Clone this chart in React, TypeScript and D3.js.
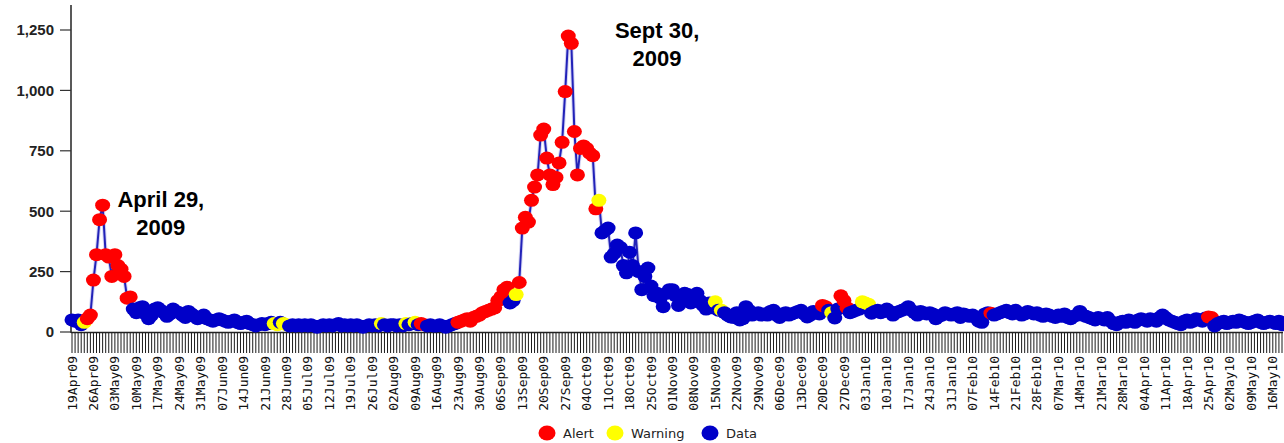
import React from "react";
import * as d3 from "d3";

// ---- data ----
const START_DATE = new Date(2009, 3, 19); // 19 Apr 2009, one value per day

const DAILY_COUNTS: number[] = [
  50, 45, 50, 30, 40, 55, 70,
  215, 320, 465, 525, 320, 310, 230,
  320, 275, 260, 230, 140, 145, 95,
  80, 100, 105, 75, 55, 70, 95,
  100, 90, 80, 65, 75, 95, 85,
  80, 70, 60, 85, 75, 65, 55,
  60, 70, 55, 50, 45, 50, 55,
  50, 45, 40, 45, 50, 40, 35,
  40, 45, 35, 30, 25, 30, 35,
  30, 35, 40, 35, 30, 40, 35,
  30, 25, 30, 25, 30, 25, 30,
  25, 30, 25, 20, 25, 30, 25,
  30, 25, 30, 35, 25, 30, 25,
  30, 25, 30, 25, 20, 25, 30,
  25, 30, 25, 35, 30, 25, 30,
  30, 25, 30, 25, 35, 30, 35,
  40, 30, 35, 30, 25, 30, 25,
  25, 30, 25, 20, 25, 30, 35,
  40, 45, 50, 55, 45, 60, 65,
  70, 80, 85, 90, 95, 100, 130,
  145, 175, 185, 120, 130, 155, 205,
  430, 475, 455, 545, 600, 650, 815,
  840, 720, 650, 610, 640, 700, 785,
  995, 1225, 1195, 830, 650, 760, 770,
  760, 740, 730, 510, 545, 410, 420,
  430, 310, 325, 360, 350, 275, 245,
  330, 275, 410, 250, 175, 230, 265,
  190, 150, 160, 140, 105, 160, 175,
  175, 150, 110, 145, 160, 155, 120,
  145, 160, 130, 110, 95, 120, 100,
  125, 90, 90, 80, 70, 62, 60,
  80, 50, 55, 105, 90, 70, 75,
  80, 70, 75, 70, 85, 90, 70,
  60, 75, 80, 70, 75, 80, 85,
  90, 75, 62, 70, 85, 80, 75,
  110, 105, 90, 80, 58, 95, 150,
  130, 100, 80, 85, 90, 95, 125,
  120, 115, 78, 85, 90, 80, 85,
  95, 85, 70, 80, 85, 90, 95,
  105, 90, 80, 70, 85, 80, 75,
  80, 75, 55, 65, 70, 80, 75,
  70, 75, 80, 60, 75, 70, 65,
  70, 60, 45, 40, 75, 80, 78,
  70, 75, 80, 85, 90, 80, 75,
  90, 80, 70, 75, 85, 80, 75,
  80, 70, 65, 75, 70, 65, 60,
  70, 65, 75, 60, 55, 65, 70,
  85, 70, 65, 60, 55, 50, 60,
  55, 50, 60, 45, 35, 30, 40,
  45, 40, 50, 45, 40, 50, 55,
  50, 45, 55, 50, 45, 60, 70,
  60, 50, 45, 40, 35, 30, 45,
  50, 40, 45, 55, 50, 45, 58,
  62, 60, 25, 35, 40, 45, 35,
  40, 45, 40, 50, 45, 40, 35,
  40, 45, 50, 40, 35, 40, 45,
  40, 35, 45, 30,
];

// A = Alert, W = Warning, D = Data (one letter per day, weekly groups)
const DAILY_STATUS: string = [
  "DDDDWAA", "AAAAAAA", "AAAAAAD", "DDDDDDD", "DDDDDDD", "DDDDDDD", "DDDDDDD",
  "DDDDDDD", "DDDDDDD", "DDDWWDW", "WDDDDDD", "DDDDDDD", "DDDDDDD", "DDDDDDD",
  "DDDWDDD", "DDDDWDD", "WDAADDD", "DDDDDDD", "AAAAAAA", "AAAAAAA", "AAADDWA",
  "AAAAAAA", "AAAAAAA", "AAAAAAA", "AAAAWDD", "DDDDDDD", "DDDDDDD", "DDDDDDD",
  "DDDDDDD", "DDDDDDD", "WDWDDDD", "DDDDDDD", "DDDDDDD", "DDDDDDD", "DDDDDDD",
  "AADWDDA", "AADDDDW", "WWDDDDD", "DDDDDDD", "DDDDDDD", "DDDDDDD", "DDDDDDD",
  "DDDDDDA", "DDDDDDD", "DDDDDDD", "DDDDDDD", "DDDDDDD", "DDDDDDD", "DDDDDDD",
  "DDDDDDD", "DDDDDDD", "DDDDDDD", "DDDDDDD", "AADDDDD", "DDDDDDD", "DDDDDDD",
  "DDDD",
].join("");

const Y_TICKS = [0, 250, 500, 750, 1000, 1250];
const LABEL_EVERY_DAYS = 7;

const SERIES_KEYS = ["A", "W", "D"];
const SERIES_NAMES = ["Alert", "Warning", "Data"];
const SERIES_COLORS = ["#ff0000", "#ffff00", "#0000c8"];

const ANNOTATIONS = [
  { day: 29, value: 517, lines: ["April 29,", "2009"] },
  { day: 191, value: 1217, lines: ["Sept 30,", "2009"] },
];

// ---- component ----
const W = 1284;
const H = 443;

export default function App() {
  const n = DAILY_COUNTS.length;
  const dates = d3.range(n).map((i) => d3.timeDay.offset(START_DATE, i));
  const fmt = d3.timeFormat("%d%b%y");

  const x = d3.scalePoint<number>().domain(d3.range(n)).range([72, 1282]);
  const y = d3.scaleLinear().domain([0, 1250]).range([332, 30]);
  const colorOf = d3.scaleOrdinal<string, string>().domain(SERIES_KEYS).range(SERIES_COLORS);

  const line = d3
    .line<number>()
    .x((_, i) => x(i) as number)
    .y((v) => y(v));

  const axisFont = "'Liberation Sans', Arial, sans-serif";

  return (
    <svg
      width={W}
      height={H}
      style={{ position: "absolute", left: 0, top: 0, background: "#fff" }}
    >
      {/* y axis */}
      <line x1={71} x2={71} y1={5} y2={333} stroke="#222" strokeWidth={1.5} />
      {Y_TICKS.map((t) => (
        <g key={t}>
          <line x1={60} x2={71} y1={y(t)} y2={y(t)} stroke="#333" strokeWidth={1.2} />
          <text
            x={54}
            y={y(t)}
            dy="0.36em"
            textAnchor="end"
            fontFamily={axisFont}
            fontWeight="bold"
            fontSize={15}
            fill="#222"
          >
            {d3.format(",")(t)}
          </text>
        </g>
      ))}

      {/* x axis */}
      <line x1={71} x2={1283} y1={332.5} y2={332.5} stroke="#222" strokeWidth={1.5} />
      {dates.map((_, i) => (
        <line
          key={i}
          x1={x(i)}
          x2={x(i)}
          y1={333}
          y2={353}
          stroke="#1a1a1a"
          strokeWidth={1}
        />
      ))}
      {dates.map((dt, i) =>
        i % LABEL_EVERY_DAYS === 0 ? (
          <text
            key={"l" + i}
            transform={`translate(${x(i)},356) rotate(-90)`}
            dy="0.35em"
            textAnchor="end"
            fontFamily="'DejaVu Sans Mono', monospace"
            fontSize={13}
            fill="#111"
          >
            {fmt(dt)}
          </text>
        ) : null
      )}

      {/* line */}
      <path
        d={line(DAILY_COUNTS) || ""}
        fill="none"
        stroke="#8a8ae0"
        strokeWidth={4}
        strokeOpacity={0.35}
      />
      <path d={line(DAILY_COUNTS) || ""} fill="none" stroke="#2222b8" strokeWidth={2} />

      {/* markers */}
      {DAILY_COUNTS.map((v, i) => (
        <ellipse
          key={"m" + i}
          cx={x(i)}
          cy={y(v)}
          rx={7.5}
          ry={6.5}
          fill={colorOf(DAILY_STATUS[i])}
        />
      ))}

      {/* annotations */}
      {ANNOTATIONS.map((a, k) => (
        <text
          key={"a" + k}
          x={x(a.day)}
          y={y(a.value)}
          textAnchor="middle"
          fontFamily={axisFont}
          fontWeight="bold"
          fontSize={22}
          fill="#000"
        >
          {a.lines.map((ln, j) => (
            <tspan key={j} x={x(a.day)} dy={j === 0 ? 0 : 28}>
              {ln}
            </tspan>
          ))}
        </text>
      ))}

      {/* legend */}
      {(() => {
        const xs = [547, 615, 710];
        return SERIES_NAMES.map((name, k) => (
          <g key={name}>
            <ellipse cx={xs[k]} cy={433} rx={8.5} ry={7.5} fill={SERIES_COLORS[k]} />
            <text
              x={xs[k] + 16}
              y={433}
              dy="0.35em"
              fontFamily="'DejaVu Sans', sans-serif"
              fontSize={13}
              fill="#222"
            >
              {name}
            </text>
          </g>
        ));
      })()}
    </svg>
  );
}
